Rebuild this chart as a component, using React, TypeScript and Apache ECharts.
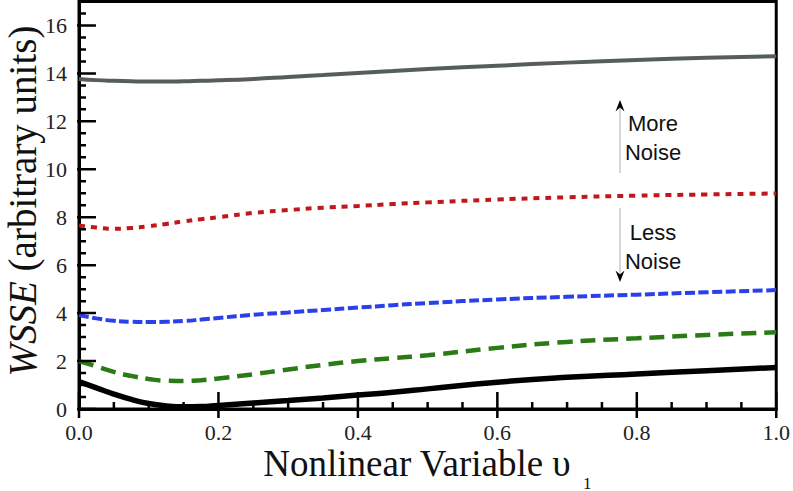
import React, { useEffect, useRef } from "react";
import * as echarts from "echarts";

const xValues = [0, 0.025, 0.05, 0.075, 0.1, 0.125, 0.15, 0.175, 0.2, 0.25, 0.3, 0.35, 0.4, 0.45, 0.5, 0.6, 0.7, 0.8, 0.9, 1.0];
const grayValues = [13.77, 13.72, 13.69, 13.67, 13.66, 13.66, 13.67, 13.69, 13.71, 13.77, 13.85, 13.93, 14.02, 14.1, 14.18, 14.32, 14.45, 14.56, 14.65, 14.72];
const redValues = [7.66, 7.57, 7.52, 7.55, 7.62, 7.72, 7.83, 7.92, 8.0, 8.18, 8.3, 8.4, 8.47, 8.55, 8.62, 8.74, 8.83, 8.9, 8.95, 8.99];
const blueValues = [3.92, 3.78, 3.68, 3.64, 3.63, 3.64, 3.67, 3.73, 3.8, 3.93, 4.03, 4.13, 4.23, 4.33, 4.42, 4.57, 4.68, 4.77, 4.87, 4.96];
const greenValues = [2.0, 1.78, 1.55, 1.38, 1.25, 1.18, 1.17, 1.2, 1.27, 1.45, 1.65, 1.84, 2.0, 2.12, 2.24, 2.55, 2.8, 2.95, 3.09, 3.2];
const blackValues = [1.14, 0.88, 0.62, 0.4, 0.23, 0.13, 0.09, 0.1, 0.15, 0.25, 0.35, 0.46, 0.58, 0.7, 0.84, 1.12, 1.32, 1.46, 1.6, 1.73];

const xMajorTicks = [0, 0.2, 0.4, 0.6, 0.8, 1.0];
const xMinorTicks = [0.05, 0.1, 0.15, 0.25, 0.3, 0.35, 0.45, 0.5, 0.55, 0.65, 0.7, 0.75, 0.85, 0.9, 0.95];
const yMajorTicks = [0, 2, 4, 6, 8, 10, 12, 14, 16];
const yMinorTicks = [0.5, 1, 1.5, 2.5, 3, 3.5, 4.5, 5, 5.5, 6.5, 7, 7.5, 8.5, 9, 9.5, 10.5, 11, 11.5, 12.5, 13, 13.5, 14.5, 15, 15.5, 16.5];

const xTitle = "Nonlinear Variable \u03c5";
const xTitleSub = "1";
const yTitleItalic = "WSSE";
const yTitleRest = " (arbitrary units)";
const moreLabel = "More\nNoise";
const lessLabel = "Less\nNoise";

const pair = (vals: number[]) => xValues.map((x, i) => [x, vals[i]]);

const GRID = { left: 79, right: 15, top: 1.5, bottom: 82 };
const X_MIN = 0;
const X_MAX = 1;
const Y_MIN = 0;
const Y_MAX = 17;

export default function App() {
  const ref = useRef<HTMLDivElement>(null);
  useEffect(() => {
    if (!ref.current) return;
    const serif = "Liberation Serif";
    const sans = "Liberation Sans";
    const chart = echarts.init(ref.current, null, { renderer: "svg" });

    // pixel lengths of tick marks converted into axis units
    const plotW = 793 - GRID.left - GRID.right;
    const plotH = 491 - GRID.top - GRID.bottom;
    const xPerPx = (X_MAX - X_MIN) / plotW;
    const yPerPx = (Y_MAX - Y_MIN) / plotH;

    const vTicks = (ticks: number[], outPx: number, inPx: number) => {
      const d: any[] = [];
      ticks.forEach((t) => {
        d.push([t, Y_MIN - outPx * yPerPx]);
        d.push([t, Y_MIN + inPx * yPerPx]);
        d.push([t, "-"]);
      });
      return d;
    };
    const hTicks = (ticks: number[], outPx: number, inPx: number) => {
      const d: any[] = [];
      ticks.forEach((t) => {
        d.push([X_MIN - outPx * xPerPx, t]);
        d.push([X_MIN + inPx * xPerPx, t]);
        d.push(["-", t]);
      });
      return d;
    };
    const tickSeries = (data: any[]) => ({
      type: "line",
      data,
      clip: false,
      silent: true,
      connectNulls: false,
      showSymbol: false,
      symbol: "none",
      z: 6,
      lineStyle: { color: "#000", width: 2.5, type: "solid" },
    });

    const mk = (vals: number[], color: string, width: number, type: any) => ({
      type: "line",
      data: pair(vals),
      smooth: 0.5,
      showSymbol: false,
      lineStyle: { color, width, type },
    });

    chart.setOption({
      animation: false,
      grid: { ...GRID, show: true, borderColor: "#000", borderWidth: 3 },
      xAxis: {
        type: "value",
        min: X_MIN,
        max: X_MAX,
        interval: 0.2,
        axisLine: { show: true, lineStyle: { color: "#000", width: 3 } },
        axisTick: { show: false },
        axisLabel: {
          show: true,
          margin: 12,
          fontFamily: serif,
          fontSize: 22,
          color: "#222",
          formatter: (v: number) => v.toFixed(1),
        },
        splitLine: { show: false },
      },
      yAxis: {
        type: "value",
        min: Y_MIN,
        max: Y_MAX,
        interval: 2,
        axisLine: { show: true, lineStyle: { color: "#000", width: 3 } },
        axisTick: { show: false },
        axisLabel: {
          show: true,
          margin: 12,
          fontFamily: serif,
          fontSize: 22,
          color: "#222",
          formatter: (v: number) => (v > 16 ? "" : String(v)),
        },
        splitLine: { show: false },
      },
      series: [
        mk(grayValues, "#555d5f", 4, "solid"),
        mk(redValues, "#c0171c", 4, [6, 6]),
        mk(blueValues, "#2a40ec", 4, [10, 3.5]),
        mk(greenValues, "#2a7a16", 4.5, [15, 8]),
        mk(blackValues, "#000000", 5.5, "solid"),
        tickSeries(vTicks(xMajorTicks, 9, 17)),
        tickSeries(vTicks(xMinorTicks, 0, 7)),
        tickSeries(hTicks(yMajorTicks, 7, 17)),
        tickSeries(hTicks(yMinorTicks, 0, 7)),
      ],
      graphic: [
        {
          type: "text",
          x: 417,
          y: 463,
          style: { text: xTitle, font: `37px "${serif}"`, lineHeight: 30, fill: "#111", align: "center", verticalAlign: "middle" },
        },
        {
          type: "text",
          x: 583,
          y: 483,
          style: { text: xTitleSub, font: `17px "${serif}"`, lineHeight: 16, fill: "#111", align: "left", verticalAlign: "middle" },
        },
        {
          type: "text",
          x: 22,
          y: 201,
          rotation: Math.PI / 2,
          style: {
            text: `{i|${yTitleItalic}}{r|${yTitleRest}}`,
            align: "center",
            verticalAlign: "middle",
            fill: "#111",
            rich: {
              i: { fontFamily: serif, fontSize: 39, fontStyle: "italic", fill: "#111", lineHeight: 30 },
              r: { fontFamily: serif, fontSize: 39, fill: "#111", lineHeight: 30 },
            },
          },
        },
        { type: "line", shape: { x1: 620, y1: 108, x2: 620, y2: 173 }, style: { stroke: "#c8c8c8", lineWidth: 1.5 } },
        { type: "polygon", shape: { points: [[620, 100], [615.5, 111.5], [620, 107.5], [624.5, 111.5]] }, style: { fill: "#000" } },
        { type: "line", shape: { x1: 620, y1: 208, x2: 620, y2: 274 }, style: { stroke: "#c8c8c8", lineWidth: 1.5 } },
        { type: "polygon", shape: { points: [[620, 282], [615.5, 270.5], [620, 274.5], [624.5, 270.5]] }, style: { fill: "#000" } },
        {
          type: "text",
          x: 653,
          y: 138,
          style: { text: moreLabel, font: `22px "${sans}"`, lineHeight: 29, fill: "#111", align: "center", verticalAlign: "middle" },
        },
        {
          type: "text",
          x: 653,
          y: 247,
          style: { text: lessLabel, font: `22px "${sans}"`, lineHeight: 29, fill: "#111", align: "center", verticalAlign: "middle" },
        },
      ],
    });

    return () => {
      chart.dispose();
    };
  }, []);
  return <div ref={ref} style={{ width: 793, height: 491, position: "absolute", left: 0, top: 0 }} />;
}
